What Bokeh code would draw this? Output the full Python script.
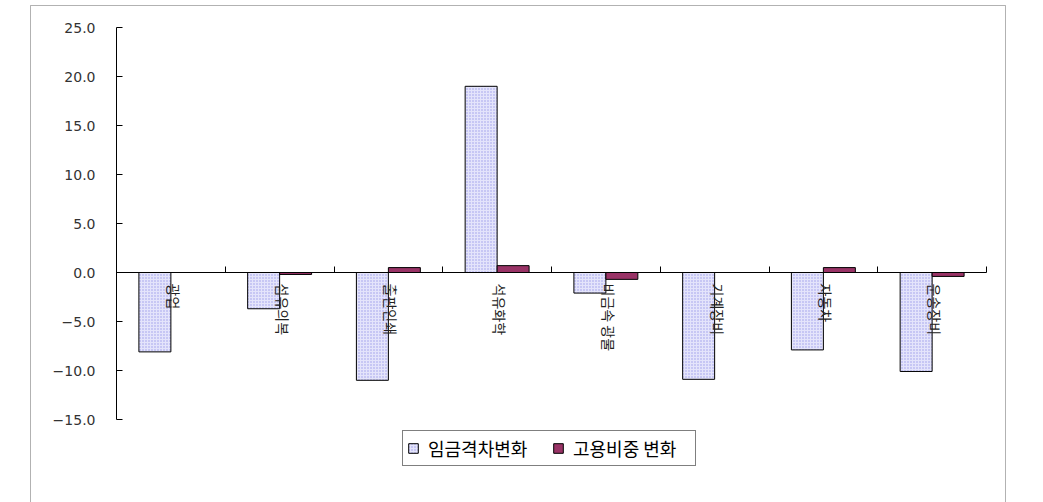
import math
from bokeh.plotting import figure
from bokeh.models import (LinearAxis, FixedTicker, CustomJSTickFormatter, Range1d,
                          ColumnDataSource, Legend, LegendItem, BoxAnnotation)
from bokeh.core.properties import value
from bokeh.embed import file_html
from bokeh.resources import INLINE

categories = ["광업", "섬유의복", "출판인쇄", "석유화학", "비금속 광물", "기계장비", "자동차", "운송장비"]
wage_gap_change = [-8.1, -3.7, -11.0, 19.0, -2.1, -10.9, -7.9, -10.1]
employment_share_change = [0.0, -0.2, 0.5, 0.7, -0.7, 0.0, 0.5, -0.4]
y_ticks = [-15, -10, -5, 0, 5, 10, 15, 20, 25]
series_names = ["임금격차변화", "고용비중 변화"]

W, H = 1043, 502
# pixel geometry of the plotting area
x0_px, cat_px = 116.0, 108.75
y0_px, unit_px = 272.0, 9.8

p = figure(width=W, height=H, output_backend="svg", toolbar_location=None,
           x_axis_type=None, y_axis_type=None,
           x_range=Range1d(-x0_px / cat_px, (W - x0_px) / cat_px),
           y_range=Range1d(-(H - y0_px) / unit_px, y0_px / unit_px),
           min_border=0, min_border_left=0, min_border_right=0,
           min_border_top=0, min_border_bottom=0)
p.outline_line_color = None
p.grid.visible = False
p.background_fill_color = "white"
p.border_fill_color = "white"

idx = list(range(len(categories)))
bw = 0.294
src = ColumnDataSource(dict(
    xc=[i + 0.5 for i in idx],
    xb=[i + 0.5 - bw / 2 for i in idx],
    xr=[i + 0.5 + bw / 2 for i in idx],
    wage=wage_gap_change,
    emp=employment_share_change,
    cat=categories,
))

r1 = p.vbar(x="xb", top="wage", bottom=0, width=bw, source=src,
            fill_color="#e4e4fb", hatch_pattern=".", hatch_scale=3,
            hatch_color="#9a9ae8", hatch_weight=1,
            line_color="black", line_width=1)
r2 = p.vbar(x="xr", top="emp", bottom=0, width=bw, source=src,
            fill_color="#993366", line_color="black", line_width=1)

# y axis inside the frame
yax = LinearAxis(fixed_location=0, bounds=(-15, 25),
                 ticker=FixedTicker(ticks=y_ticks),
                 formatter=CustomJSTickFormatter(code="return tick.toFixed(1).replace('-', '\u2212');"))
yax.major_tick_in = 6
yax.major_tick_out = 0
yax.minor_tick_in = 0
yax.minor_tick_out = 0
yax.major_label_standoff = 21
yax.major_label_text_font = "DejaVu Sans"
yax.major_label_text_font_size = "14px"
yax.major_label_text_color = "#333333"
yax.axis_line_color = "black"
yax.major_tick_line_color = "black"
p.add_layout(yax, "left")

# x axis at zero (category boundaries ticked, no tick labels)
xax = LinearAxis(fixed_location=0, bounds=(0, len(categories)),
                 ticker=FixedTicker(ticks=[i + 1 for i in idx]),
                 formatter=CustomJSTickFormatter(code="return '';"))
xax.major_tick_in = 6
xax.major_tick_out = 0
xax.minor_tick_in = 0
xax.minor_tick_out = 0
xax.axis_line_color = "black"
xax.major_tick_line_color = "black"
p.add_layout(xax, "below")

# category labels, rotated
p.text(x="xc", y=0, text="cat", source=src, angle=-math.pi / 2,
       text_align="left", text_baseline="middle", x_offset=3, y_offset=11,
       text_font=value("Noto Sans CJK KR"), text_font_size="14px",
       text_color="#222222")

# outer chart border (open at bottom)
p.add_layout(BoxAnnotation(left=30, right=1005, top=5, bottom=600,
                           left_units="canvas", right_units="canvas",
                           top_units="canvas", bottom_units="canvas",
                           fill_color=None, line_color="black", line_width=1))

legend = Legend(items=[LegendItem(label=series_names[0], renderers=[r1]),
                       LegendItem(label=series_names[1], renderers=[r2])],
                orientation="horizontal", location=(402, 36))
legend.label_text_font = "Noto Sans CJK KR"
legend.label_text_font_size = "18px"
legend.label_text_color = "black"
legend.glyph_width = 12
legend.glyph_height = 12
legend.label_standoff = 9
legend.label_width = 118
legend.spacing = 6
legend.padding = 4
legend.margin = 0
legend.border_line_color = "black"
legend.border_line_width = 1
legend.background_fill_alpha = 1
legend.label_height = 14
p.add_layout(legend, "center")

open("out.html", "w").write(file_html(p, INLINE))
